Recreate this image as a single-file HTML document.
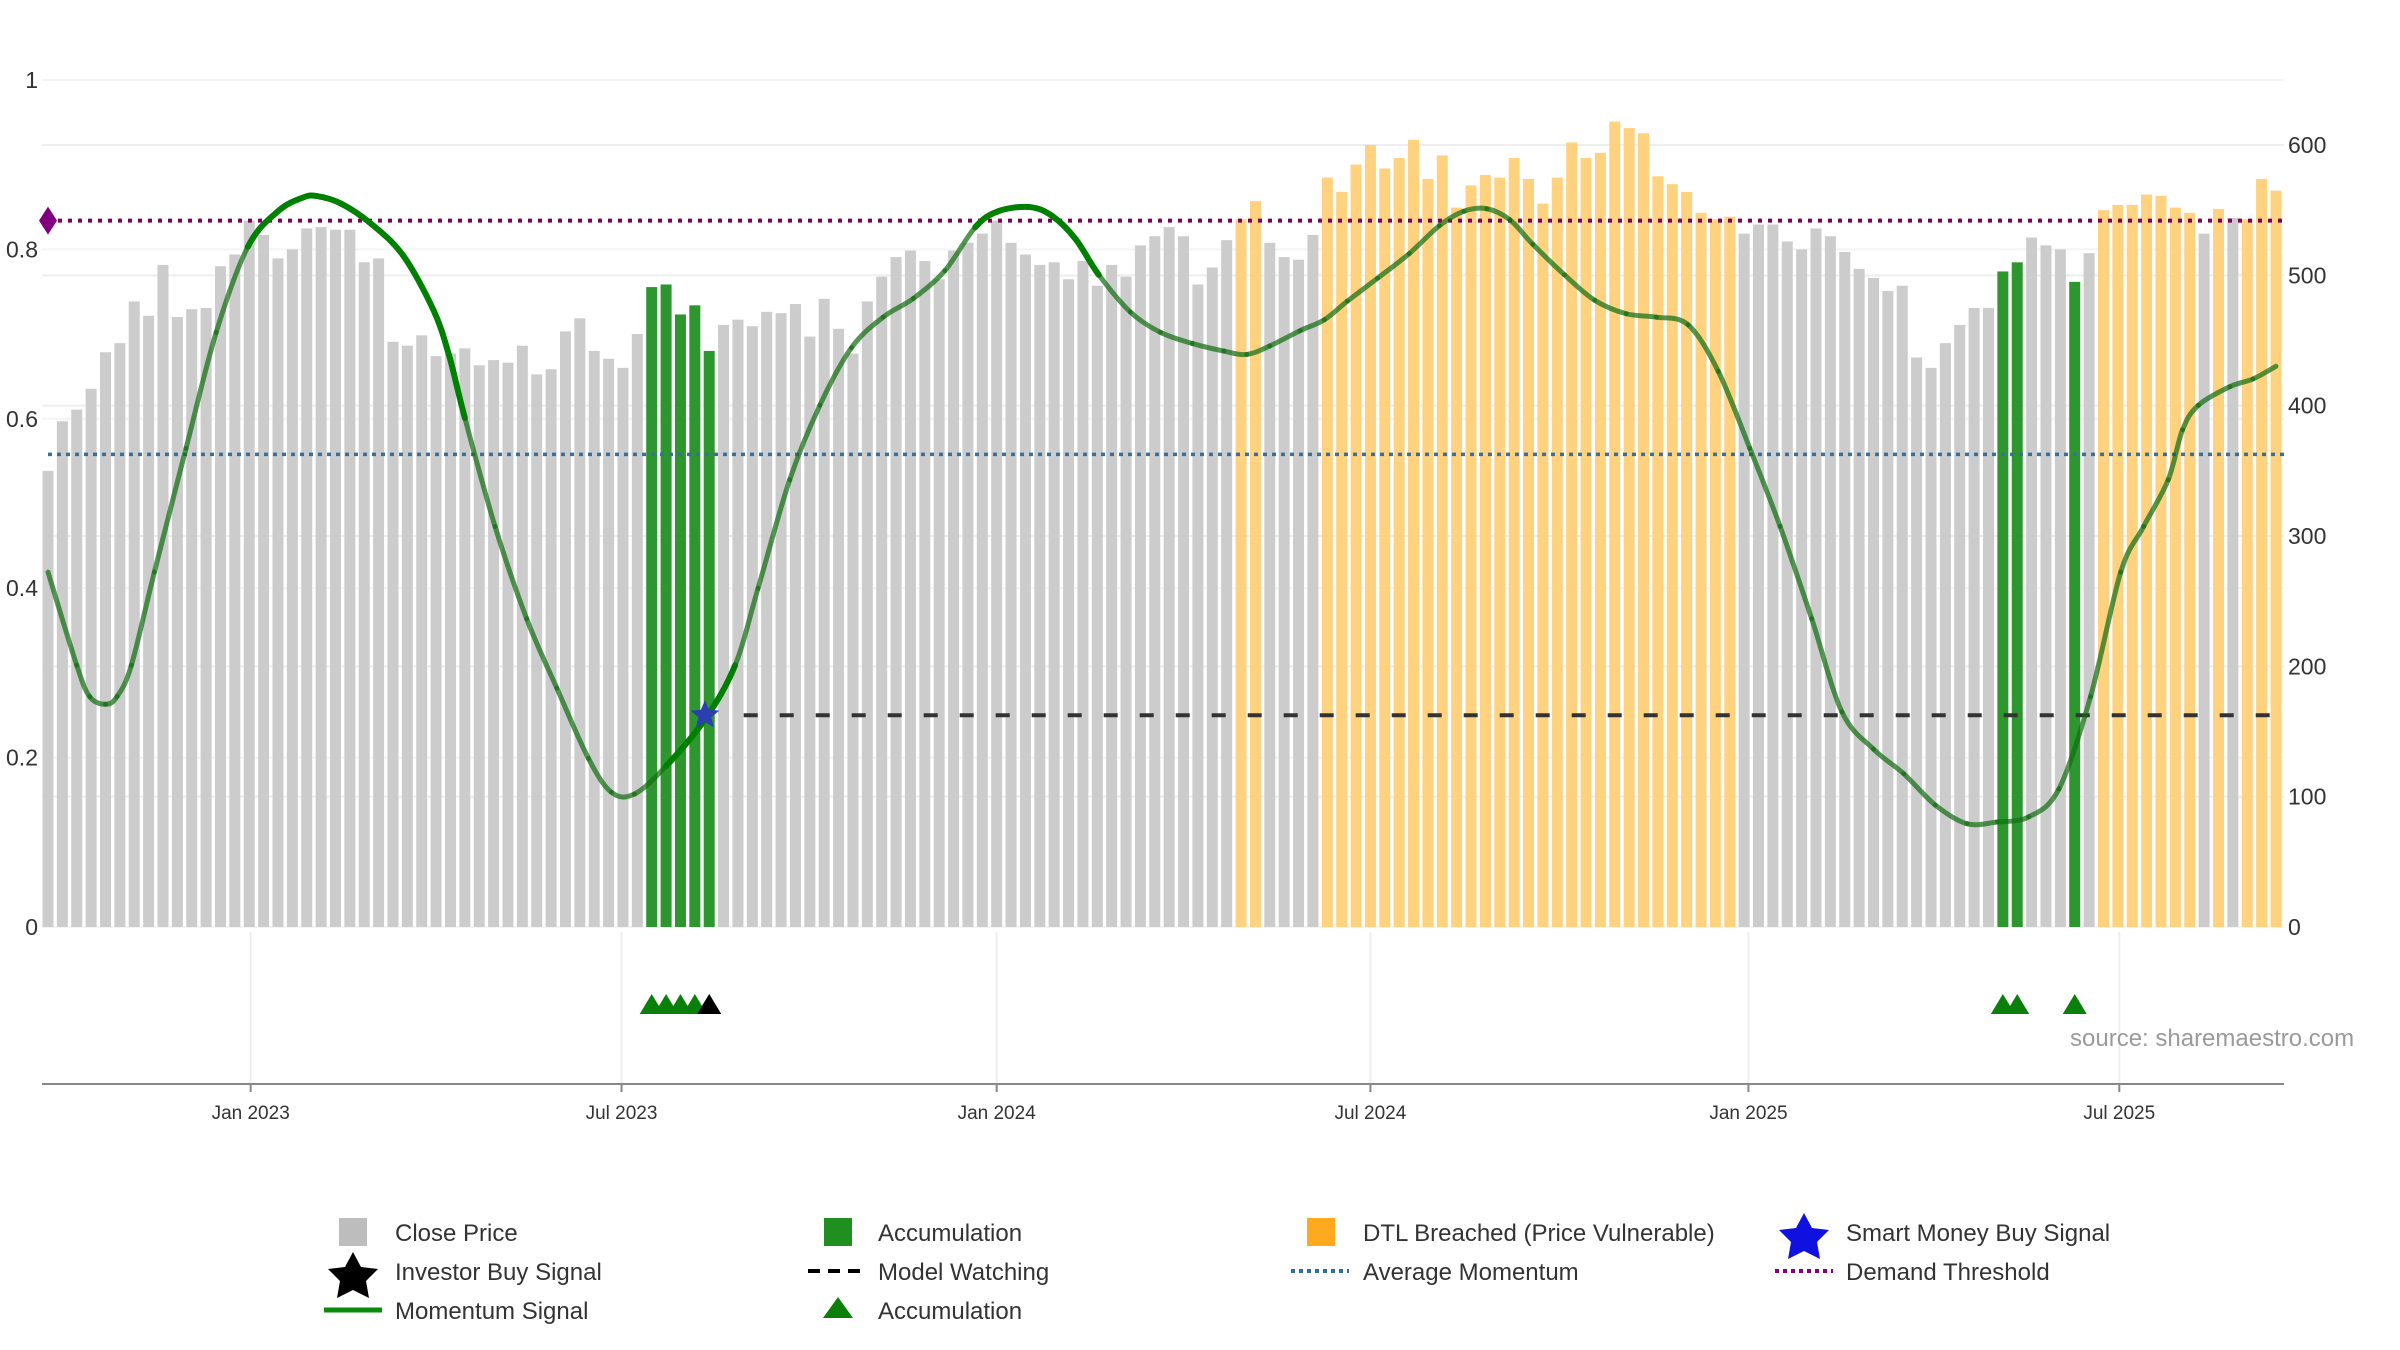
<!DOCTYPE html>
<html><head><meta charset="utf-8"><style>
html,body{margin:0;padding:0;background:#fff;}
svg{display:block;font-family:"Liberation Sans","DejaVu Sans",sans-serif;}
</style></head><body>
<svg id="chart" width="2400" height="1350" viewBox="0 0 2400 1350" xmlns="http://www.w3.org/2000/svg">
<g id="grid"></g>
<g id="bars"></g>
<g id="lines"></g>
<g id="mom"></g>
<g id="marks"></g>
<g id="axes"></g>
<text x="2070" y="1046" font-size="24" fill="#9a9a9a">source: sharemaestro.com</text>
<g id="legend" font-size="24" fill="#333">
  <g><rect x="339" y="1218" width="28" height="28" fill="#bdbdbd"/><text x="395" y="1241">Close Price</text></g>
  <g><rect x="824" y="1218" width="28" height="28" fill="#1f8f1f"/><text x="878" y="1241">Accumulation</text></g>
  <g><rect x="1307" y="1218" width="28" height="28" fill="#ffa91f"/><text x="1363" y="1241">DTL Breached (Price Vulnerable)</text></g>
  <g><polygon points="1804,1213 1812,1228 1829,1230 1817,1242 1820,1259 1804,1251 1788,1259 1791,1242 1779,1230 1796,1228" fill="#1010e0"/><text x="1846" y="1241">Smart Money Buy Signal</text></g>
  <g><polygon points="353,1252 361,1267 378,1269 366,1281 369,1298 353,1290 337,1298 340,1281 328,1269 345,1267" fill="#000"/><text x="395" y="1280">Investor Buy Signal</text></g>
  <g><line x1="808" y1="1271" x2="866" y2="1271" stroke="#000" stroke-width="4" stroke-dasharray="12,8"/><text x="878" y="1280">Model Watching</text></g>
  <g><line x1="1291" y1="1271" x2="1349" y2="1271" stroke="#2f6f9f" stroke-width="4" stroke-dasharray="4,4"/><text x="1363" y="1280">Average Momentum</text></g>
  <g><line x1="1775" y1="1271" x2="1833" y2="1271" stroke="#800080" stroke-width="4" stroke-dasharray="4,4"/><text x="1846" y="1280">Demand Threshold</text></g>
  <g><line x1="324" y1="1310" x2="382" y2="1310" stroke="#0a8a0a" stroke-width="5"/><text x="395" y="1319">Momentum Signal</text></g>
  <g><polygon points="838,1297 853,1318 823,1318" fill="#0a800a"/><text x="878" y="1319">Accumulation</text></g>
</g>
</svg>
<script>
// weekly close prices (right axis)
const prices = [350,388,397,413,441,448,480,469,508,468,474,475,507,516,542,531,513,520,536,537,535,535,510,513,449,446,454,438,440,444,431,435,433,446,424,428,457,467,442,436,429,455,491,493,470,477,442,462,466,461,472,471,478,453,482,459,440,480,499,514,519,511,497,519,525,532,542,525,516,508,510,497,511,492,508,499,523,530,537,530,493,506,527,543,557,525,514,512,531,575,564,585,600,582,590,604,574,592,552,569,577,575,590,574,555,575,602,590,594,618,613,609,576,570,564,548,543,545,532,539,539,526,520,536,530,518,505,498,488,492,437,429,448,462,475,475,503,510,529,523,520,495,517,550,554,554,562,561,552,548,532,551,544,543,574,565];
// bar state: g=gray, a=accumulation, o=dtl breached
const states = "g".repeat(42) + "aaaaa" + "g".repeat(36) + "oo" + "gggg" + "o".repeat(29) + "g".repeat(18) + "aa" + "ggg" + "a" + "g" + "o".repeat(7) + "g" + "o" + "g" + "ooo";
// momentum samples: week index and value (left axis)
const momWeek = [0,2.0,2.9,4.0,4.8,5.8,7.4,9.6,11.7,13.9,16.0,17.7,18.7,20.4,22.5,24.7,26.8,27.9,29.0,31.1,33.3,35.4,37.6,39.2,40.8,43.0,45.7,47.8,49.4,51.6,53.7,55.9,58.1,60.2,62.4,64.5,66.1,68.3,69.9,71.5,73.1,75.3,77.4,79.6,81.8,83.4,85.0,87.1,88.8,90.4,92.5,94.7,96.8,98.5,100.1,101.7,103.3,105.5,107.6,109.8,111.9,114.1,116.2,118.4,120.5,122.7,124.8,127.0,129.1,131.3,133.5,135.6,137.8,139.9,142.1,144.2,145.8,147.5,148.5,149.6,151.8,153.4,155.0];
const momVal = [0.419,0.309,0.272,0.263,0.272,0.309,0.419,0.565,0.702,0.803,0.845,0.861,0.863,0.854,0.830,0.793,0.729,0.675,0.601,0.473,0.364,0.282,0.199,0.159,0.157,0.190,0.245,0.309,0.400,0.528,0.616,0.684,0.720,0.742,0.775,0.826,0.845,0.850,0.839,0.812,0.770,0.726,0.702,0.689,0.680,0.676,0.686,0.704,0.717,0.739,0.766,0.795,0.828,0.845,0.848,0.835,0.806,0.770,0.740,0.724,0.720,0.711,0.656,0.565,0.473,0.364,0.254,0.210,0.181,0.144,0.122,0.124,0.130,0.163,0.272,0.419,0.473,0.528,0.587,0.616,0.638,0.647,0.662];
const demandThreshold = 0.834;
const avgMomentum = 0.558;
const watchLevel = 0.25;
const watchStartWeek = 48.4;
const smartMoneyWeek = 45.7;
const investorWeek = 46;
const rightTicks = [0,100,200,300,400,500,600];
const leftTicks = [0,0.2,0.4,0.6,0.8,1];
const leftTickLabels = ["0","0.2","0.4","0.6","0.8","1"];
const dateTickWeeks = [14.1,39.9,66.0,92.0,118.3,144.1];
const dateTickLabels = ["Jan 2023","Jul 2023","Jan 2024","Jul 2024","Jan 2025","Jul 2025"];

const NS="http://www.w3.org/2000/svg";
const X0=48, DX=14.374, L=42, R=2284, B=927, T=80;
const X = w => X0 + w*DX;
const YL = v => B - v*(B-T);
const YR = p => B - p*1.3033;
function mk(tag, attrs, parent){const e=document.createElementNS(NS,tag);for(const k in attrs)e.setAttribute(k,attrs[k]);parent.appendChild(e);return e;}
const G=id=>document.getElementById(id);

rightTicks.forEach(t=>{const l=mk('line',{x1:L,x2:R,y1:YR(t),y2:YR(t),stroke:'#eeeeee','stroke-width':2},G('grid'));

});
leftTicks.forEach(t=>{const l=mk('line',{x1:L,x2:R,y1:YL(t),y2:YL(t),stroke:'#f4f4f4','stroke-width':2},G('grid'));

});
dateTickWeeks.forEach(w=>{const l=mk('line',{x1:X(w),x2:X(w),y1:932,y2:1084,stroke:'#eeeeee','stroke-width':2},G('grid'));

});

const colors={g:'#cccccc',a:'#2e962e',o:'#ffd27f'};
prices.forEach((p,i)=>{const s=states[i]||'g';
const r=mk('rect',{x:X(i)-5.5,y:YR(p),width:11,height:B-YR(p),fill:colors[s]},G('bars'));

});

let l1=mk('line',{x1:X(0),x2:R,y1:YL(demandThreshold),y2:YL(demandThreshold),stroke:'#800060','stroke-width':4,'stroke-dasharray':'4,6'},G('lines'));


let l2=mk('line',{x1:X(0),x2:R,y1:YL(avgMomentum),y2:YL(avgMomentum),stroke:'#3a6f99','stroke-width':3.5,'stroke-dasharray':'4,5'},G('lines'));


let l3=mk('line',{x1:X(watchStartWeek),x2:X(155),y1:YL(watchLevel),y2:YL(watchLevel),stroke:'#333','stroke-width':4,'stroke-dasharray':'14,22'},G('lines'));


let dm=mk('polygon',{points:`${X(0)-9},${YL(demandThreshold)} ${X(0)},${YL(demandThreshold)-14} ${X(0)+9},${YL(demandThreshold)} ${X(0)},${YL(demandThreshold)+14}`,fill:'#800080'},G('lines'));



const pts=momWeek.map((w,i)=>[X(w),YL(momVal[i])]);
function seg(i){const p0=pts[Math.max(i-1,0)],p1=pts[i],p2=pts[i+1],p3=pts[Math.min(i+2,pts.length-1)];
return `M${p1[0]},${p1[1]} C${p1[0]+(p2[0]-p0[0])/6},${p1[1]+(p2[1]-p0[1])/6} ${p2[0]-(p3[0]-p1[0])/6},${p2[1]-(p3[1]-p1[1])/6} ${p2[0]},${p2[1]}`;}
const strong=[[13,28],[41,46],[63,73]];
for(let i=0;i<pts.length-1;i++){const w=momWeek[i];
const st=strong.some(r=>w>=r[0]&&w<r[1]);
const p=mk('path',{d:seg(i),fill:'none',stroke:st?'#008000':'rgba(20,110,20,0.72)','stroke-width':st?6:5,'stroke-linecap':'round'},G('mom'));

}

function star(cx,cy,r,fill){const a=[];for(let k=0;k<10;k++){const rr=k%2?r*0.45:r;const ang=-Math.PI/2+k*Math.PI/5;a.push((cx+rr*Math.cos(ang)).toFixed(1)+','+(cy+rr*Math.sin(ang)).toFixed(1));}
return mk('polygon',{points:a.join(' '),fill:fill},G('marks'));}
const s1=star(X(smartMoneyWeek),YL(watchLevel),15,'#2a3fb0');



const TY=1005;
prices.forEach((p,i)=>{if(states[i]!=='a')return;
const t=mk('polygon',{points:`${X(i)},${TY-11} ${X(i)+12},${TY+9} ${X(i)-12},${TY+9}`,fill:'#0a800a'},G('marks'));

});
const ti=mk('polygon',{points:`${X(investorWeek)},${TY-11} ${X(investorWeek)+12},${TY+9} ${X(investorWeek)-12},${TY+9}`,fill:'#000'},G('marks'));



const ax=G('axes');
let al=mk('line',{x1:L,x2:R,y1:1084,y2:1084,stroke:'#888','stroke-width':2},ax);


dateTickWeeks.forEach((w,i)=>{mk('line',{x1:X(w),x2:X(w),y1:1084,y2:1092,stroke:'#888','stroke-width':2},ax);
const t=mk('text',{x:X(w),y:1119,'font-size':19,fill:'#333','text-anchor':'middle'},ax);t.textContent=dateTickLabels[i];

});
leftTicks.forEach((v,i)=>{const t=mk('text',{x:38,y:YL(v)+8,'font-size':23,fill:'#333','text-anchor':'end'},ax);t.textContent=leftTickLabels[i];

});
rightTicks.forEach(v=>{const t=mk('text',{x:2288,y:YR(v)+8,'font-size':23,fill:'#333'},ax);t.textContent=String(v);

});
</script>
</body></html>
